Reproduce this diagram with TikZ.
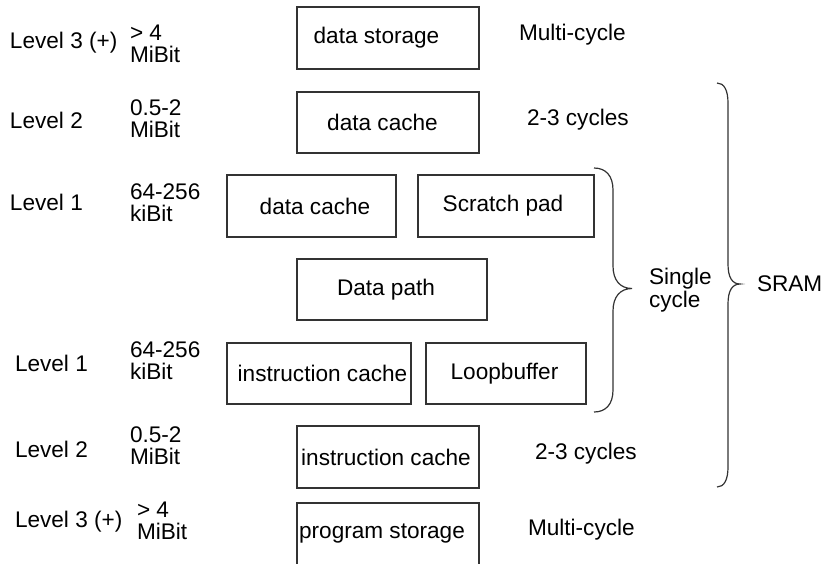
\documentclass[tikz,border=0pt]{standalone}
\usepackage{fontspec}
\setmainfont{Liberation Sans}
\begin{document}
\begin{tikzpicture}[x=0.5pt,y=-0.5pt,
  every node/.style={font=\fontsize{11.3}{11}\selectfont, inner sep=0pt, outer sep=0pt},
  box/.style={draw=black!80, line width=0.6pt, inner sep=0pt},
  tshift/.style={execute at begin node={\hspace*{#1pt}}},
  lvl/.style={anchor=base west},
  sz/.style={anchor=west, align=left},
  brace/.style={draw=black!80, line width=0.6pt}]
\clip (0,0) rectangle (824,563);

% boxes
\node[box, minimum width=91pt, minimum height=31pt, tshift=-11.5] (ds) at (388,38) {data storage};
\node[box, minimum width=91pt, minimum height=30.5pt, tshift=-5.5] (dc2) at (388,122.5) {data cache};
\node[box, minimum width=84.5pt, minimum height=31pt, tshift=3.5] (dc1) at (311.5,206) {data cache};
\node[box, minimum width=88pt, minimum height=31pt, tshift=-3] (sp) at (506,206) {Scratch pad};
\node[box, minimum width=95pt, minimum height=30.5pt, tshift=-6] (dp) at (392,289.5) {Data path};
\node[box, minimum width=92pt, minimum height=30.5pt, tshift=3.5] (ic1) at (319,373.5) {instruction cache};
\node[box, minimum width=80pt, minimum height=30.5pt, tshift=-1.5] (lb) at (506,373.5) {Loopbuffer};
\node[box, minimum width=91pt, minimum height=31pt, tshift=-2] (ic2) at (388,457) {instruction cache};
\node[box, minimum width=91pt, minimum height=31pt, tshift=-6] (ps) at (388,534) {program storage};

% level labels
\node[lvl] (l3a) at (10,48) {Level 3 (+)};
\node[lvl] (l2a) at (10,128) {Level 2};
\node[lvl] (l1a) at (10,210) {Level 1};
\node[lvl] (l1b) at (15,371) {Level 1};
\node[lvl] (l2b) at (15,457) {Level 2};
\node[lvl] (l3b) at (15,527) {Level 3 (+)};

% size labels
\node[sz] (s3a) at (130,44) {> 4\\MiBit};
\node[sz] (s2a) at (130,118.5) {0.5-2\\MiBit};
\node[sz] (s1a) at (130,203) {64-256\\kiBit};
\node[sz] (s1b) at (130,360.5) {64-256\\kiBit};
\node[sz] (s2b) at (130,446) {0.5-2\\MiBit};
\node[sz] (s3b) at (137,521) {> 4\\MiBit};

% latency labels
\node[lvl] (m1) at (519,40) {Multi-cycle};
\node[lvl] (c1) at (527,125) {2-3 cycles};
\node[lvl] (c2) at (535,459) {2-3 cycles};
\node[lvl] (m2) at (528,535) {Multi-cycle};

% braces
\coordinate (sct) at (594,168);
\coordinate (scb) at (594,412);
\coordinate (sctip) at (632,288.5);
\draw[brace] (sct) .. controls (606,168) and (613,176) .. (613,190) -- (613,266)
  .. controls (613,280) and (620,288.5) .. (sctip)
  .. controls (620,288.5) and (613,297) .. (613,311) -- (613,390)
  .. controls (613,404) and (606,412) .. (scb);
\node[anchor=west, align=left, font=\fontsize{11.3}{11.3}\selectfont] (single) at (649,290) {Single\\cycle};

\coordinate (srt) at (717,83);
\coordinate (srb) at (717,487);
\coordinate (srtip) at (740,284);
\draw[brace] (srt) .. controls (724,83) and (728,90) .. (728,103) -- (728,264)
  .. controls (728,277) and (732,284) .. (srtip)
  .. controls (732,284) and (728,291) .. (728,304) -- (728,467)
  .. controls (728,480) and (724,487) .. (srb);
\node[lvl] (sram) at (757,291) {SRAM};
\end{tikzpicture}
\end{document}
